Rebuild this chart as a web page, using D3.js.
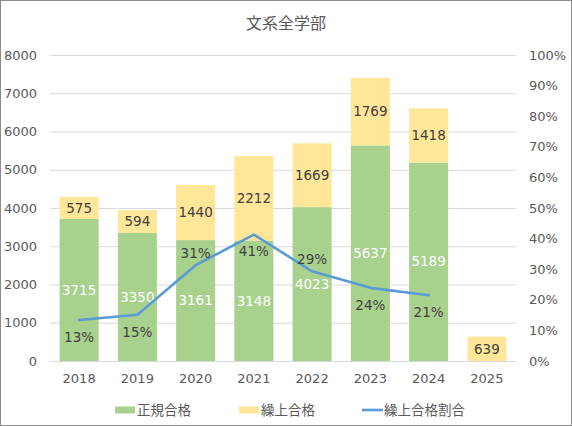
<!DOCTYPE html>
<html>
<head>
<meta charset="utf-8">
<script src="https://cdn.jsdelivr.net/npm/d3@7"></script>
<style>
  body { margin: 0; background: #fff; }
  svg { display: block; font-family: "DejaVu Sans", "Noto Sans CJK JP", sans-serif; }
</style>
</head>
<body>
<svg id="chart"></svg>
<script>
// data
const years = ["2018", "2019", "2020", "2021", "2022", "2023", "2024", "2025"];
const seiki = [3715, 3350, 3161, 3148, 4023, 5637, 5189, 0];
const kuriage = [575, 594, 1440, 2212, 1669, 1769, 1418, 639];
const ratio = [0.134, 0.151, 0.313, 0.413, 0.293, 0.239, 0.215, null];
const ratioLabels = ["13%", "15%", "31%", "41%", "29%", "24%", "21%", null];
const leftTicks = [0, 1000, 2000, 3000, 4000, 5000, 6000, 7000, 8000];
const rightTicks = [0, 0.1, 0.2, 0.3, 0.4, 0.5, 0.6, 0.7, 0.8, 0.9, 1.0];
const seriesNames = ["正規合格", "繰上合格", "繰上合格割合"];

const W = 572, H = 426;
const margin = {top: 55, right: 56, bottom: 65, left: 50};
const colors = {seiki: "#a9d18e", kuriage: "#ffe699", line: "#5b9bd5"};
// where each ratio label sits relative to its point
const labelSide = ["below", "below", "above", "below", "above", "below", "below", null];

const svg = d3.select("#chart").attr("width", W).attr("height", H);

svg.append("rect")
    .attr("x", 0.5).attr("y", 0.5)
    .attr("width", W - 1).attr("height", H - 1)
    .attr("fill", "#fff").attr("stroke", "#8c8c8c");

const iw = W - margin.left - margin.right;
const ih = H - margin.top - margin.bottom;
const g = svg.append("g").attr("transform", `translate(${margin.left},${margin.top})`);

const x = d3.scaleBand().domain(years).range([0, iw]).paddingInner(0.33).paddingOuter(0.165);
const y = d3.scaleLinear().domain([0, 8000]).range([ih, 0]);
const y2 = d3.scaleLinear().domain([0, 1]).range([ih, 0]);

// gridlines
g.append("g")
    .call(d3.axisLeft(y).tickValues(leftTicks).tickSize(-iw).tickFormat(""))
    .call(a => a.select(".domain").remove())
    .call(a => a.selectAll("line").attr("stroke", "#d9d9d9"));

// left axis labels
g.append("g")
    .attr("transform", "translate(-13,0)")
    .call(d3.axisLeft(y).tickValues(leftTicks).tickSize(0).tickPadding(0).tickFormat(d3.format("d")))
    .call(a => a.select(".domain").remove())
    .call(a => a.selectAll("text").attr("fill", "#595959").attr("font-size", 13)
        .style("font-family", "DejaVu Sans"));

// right axis labels
g.append("g")
    .attr("transform", `translate(${iw + 13},0)`)
    .call(d3.axisRight(y2).tickValues(rightTicks).tickSize(0).tickPadding(0).tickFormat(d3.format(".0%")))
    .call(a => a.select(".domain").remove())
    .call(a => a.selectAll("text").attr("fill", "#595959").attr("font-size", 13)
        .style("font-family", "DejaVu Sans"));

// stacked bars
const rows = years.map((yr, i) => ({year: yr, seiki: seiki[i], kuriage: kuriage[i]}));
const stack = d3.stack().keys(["seiki", "kuriage"])(rows);

const layers = g.selectAll(".layer")
    .data(stack)
    .join("g")
    .attr("fill", d => colors[d.key]);

layers.selectAll("rect")
    .data(d => d)
    .join("rect")
    .attr("x", d => x(d.data.year))
    .attr("width", x.bandwidth())
    .attr("y", d => y(d[1]))
    .attr("height", d => y(d[0]) - y(d[1]));

// x axis
g.append("g")
    .attr("transform", `translate(0,${ih})`)
    .call(d3.axisBottom(x).tickSize(0).tickPadding(13))
    .call(a => a.select(".domain").attr("stroke", "#d9d9d9"))
    .call(a => a.selectAll("text").attr("fill", "#595959").attr("font-size", 13)
        .style("font-family", "DejaVu Sans"));

// bar labels
layers.each(function(layer) {
    d3.select(this).selectAll("text")
        .data(layer.filter(d => d[1] - d[0] > 0))
        .join("text")
        .attr("x", d => x(d.data.year) + x.bandwidth() / 2)
        .attr("y", d => y((d[0] + d[1]) / 2))
        .attr("dy", "0.35em")
        .attr("text-anchor", "middle")
        .attr("font-size", 13.5)
        .attr("fill", layer.key === "seiki" ? "#fff" : "#404040")
        .text(d => d[1] - d[0]);
});

// ratio line
const pts = years.map((yr, i) => ({year: yr, v: ratio[i], label: ratioLabels[i], side: labelSide[i]}))
    .filter(d => d.v != null);

const line = d3.line()
    .x(d => x(d.year) + x.bandwidth() / 2)
    .y(d => y2(d.v));

g.append("path")
    .attr("d", line(pts))
    .attr("fill", "none")
    .attr("stroke", colors.line)
    .attr("stroke-width", 2.6)
    .attr("stroke-linejoin", "round")
    .attr("stroke-linecap", "round");

g.selectAll(".ratio-label")
    .data(pts)
    .join("text")
    .attr("class", "ratio-label")
    .attr("x", d => x(d.year) + x.bandwidth() / 2)
    .attr("y", d => y2(d.v) + (d.side === "below" ? 17 : -12))
    .attr("dy", "0.35em")
    .attr("text-anchor", "middle")
    .attr("font-size", 13.5)
    .attr("fill", "#404040")
    .text(d => d.label);

// title
svg.append("text")
    .attr("x", W / 2)
    .attr("y", 23)
    .attr("dy", "0.35em")
    .attr("text-anchor", "middle")
    .attr("font-size", 16)
    .attr("fill", "#595959")
    .style("font-family", "Noto Sans CJK JP")
    .text("文系全学部");

// legend
const legend = svg.append("g").attr("transform", "translate(0,410)");
const legendX = [115, 239, 362];
seriesNames.forEach((name, i) => {
    const lg = legend.append("g").attr("transform", `translate(${legendX[i]},0)`);
    if (i < 2) {
        lg.append("rect")
            .attr("y", -3.5).attr("width", 20).attr("height", 7)
            .attr("fill", i === 0 ? colors.seiki : colors.kuriage);
    } else {
        lg.append("line")
            .attr("x1", 0).attr("x2", 21)
            .attr("stroke", colors.line).attr("stroke-width", 2.6);
    }
    lg.append("text")
        .attr("x", 22)
        .attr("dy", "0.35em")
        .attr("font-size", 13.5)
        .attr("fill", "#595959")
        .style("font-family", "Noto Sans CJK JP")
        .text(name);
});
</script>
</body>
</html>
